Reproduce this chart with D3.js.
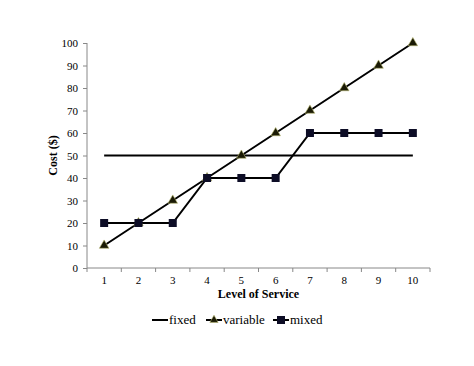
<!DOCTYPE html>
<html lang="en">
<head>
<meta charset="UTF-8"/>
<title>Cost vs Level of Service</title>
<script src="https://d3js.org/d3.v7.min.js"></script>
<style>
	body { margin: 0; background: #fff; }
	svg text { font-family: "Liberation Serif", "Times New Roman", serif; fill: #000; }
	.axis path, .axis line { stroke: #888; }
	.axis text { font-size: 11px; font-family: "Liberation Serif", serif; }
	.ttl { font-size: 12px; font-weight: bold; }
	.leg { font-size: 13px; }
</style>
</head>
<body>
<div id="chart"></div>
<script>
var levels = [1, 2, 3, 4, 5, 6, 7, 8, 9, 10];
var fixed = [50, 50, 50, 50, 50, 50, 50, 50, 50, 50];
var variable = [10, 20, 30, 40, 50, 60, 70, 80, 90, 100];
var mixed = [20, 20, 20, 40, 40, 40, 60, 60, 60, 60];
var yTicks = [0, 10, 20, 30, 40, 50, 60, 70, 80, 90, 100];

var w = 474, h = 366;
var mLeft = 87, mRight = 430, mTop = 43, mBottom = 268;

var svg = d3.select("#chart").append("svg")
	.attr("width", w).attr("height", h);

var xScale = d3.scaleBand().domain(levels).range([mLeft, mRight]);
var yScale = d3.scaleLinear().domain([0, 100]).range([mBottom, mTop]);
var cx = function(d, i) { return xScale(levels[i]) + xScale.bandwidth() / 2; };

var xAxis = d3.axisBottom(xScale).tickSize(0).tickPadding(8);
var gx = svg.append("g").attr("class", "axis")
	.attr("transform", "translate(0," + mBottom + ")")
	.call(xAxis);
gx.select(".domain").attr("d", "M" + mLeft + ",0H" + mRight);
gx.selectAll("text").attr("font-family", null).attr("font-size", null);
// tick marks at category boundaries
gx.selectAll(".bound").data(levels.concat([null])).enter().append("line")
	.attr("x1", function(d, i) { return mLeft + i * xScale.step(); })
	.attr("x2", function(d, i) { return mLeft + i * xScale.step(); })
	.attr("y1", 0).attr("y2", 4).attr("stroke", "#888");

var yAxis = d3.axisLeft(yScale).tickValues(yTicks).tickSize(4).tickPadding(5);
var gy = svg.append("g").attr("class", "axis")
	.attr("transform", "translate(" + mLeft + ",0)")
	.call(yAxis);
gy.select(".domain").attr("d", "M0," + mTop + "V" + mBottom);
gy.attr("font-family", null).attr("font-size", null);
gx.attr("font-family", null).attr("font-size", null);

svg.append("text").attr("class", "ttl")
	.attr("text-anchor", "middle")
	.attr("transform", "translate(57," + ((mTop + mBottom) / 2) + ") rotate(-90)")
	.text("Cost ($)");
svg.append("text").attr("class", "ttl")
	.attr("text-anchor", "middle")
	.attr("x", (mLeft + mRight) / 2).attr("y", 298)
	.text("Level of Service");

var line = d3.line().x(cx).y(function(d) { return yScale(d); });

[fixed, variable, mixed].forEach(function(s) {
	svg.append("path").datum(s).attr("d", line)
		.attr("fill", "none").attr("stroke", "#000").attr("stroke-width", 2);
});

var tri = d3.symbol().type(d3.symbolTriangle).size(40);
svg.selectAll(".tri").data(variable).enter().append("path")
	.attr("d", tri)
	.attr("transform", function(d, i) { return "translate(" + cx(d, i) + "," + yScale(d) + ")"; })
	.attr("fill", "#1a1a05").attr("stroke", "#b8b870").attr("stroke-width", 0.6);

svg.selectAll(".sq").data(mixed).enter().append("rect")
	.attr("x", function(d, i) { return cx(d, i) - 4; })
	.attr("y", function(d) { return yScale(d) - 4; })
	.attr("width", 8).attr("height", 8)
	.attr("fill", "#0d0d26");

// legend
var ly = 320;
var leg = [
	{ name: "fixed", x: 152, mark: null },
	{ name: "variable", x: 206, mark: "tri" },
	{ name: "mixed", x: 273, mark: "sq" }
];
leg.forEach(function(l) {
	svg.append("line").attr("x1", l.x).attr("x2", l.x + 16)
		.attr("y1", ly).attr("y2", ly).attr("stroke", "#000").attr("stroke-width", 2);
	if (l.mark === "tri") {
		svg.append("path").attr("d", d3.symbol().type(d3.symbolTriangle).size(30))
			.attr("transform", "translate(" + (l.x + 8) + "," + ly + ")")
			.attr("fill", "#1a1a05").attr("stroke", "#b8b870").attr("stroke-width", 0.6);
	} else if (l.mark === "sq") {
		svg.append("rect").attr("x", l.x + 4).attr("y", ly - 4)
			.attr("width", 8).attr("height", 8).attr("fill", "#0d0d26");
	}
	svg.append("text").attr("class", "leg")
		.attr("x", l.x + 17).attr("y", ly + 4).text(l.name);
});
</script>
</body>
</html>
